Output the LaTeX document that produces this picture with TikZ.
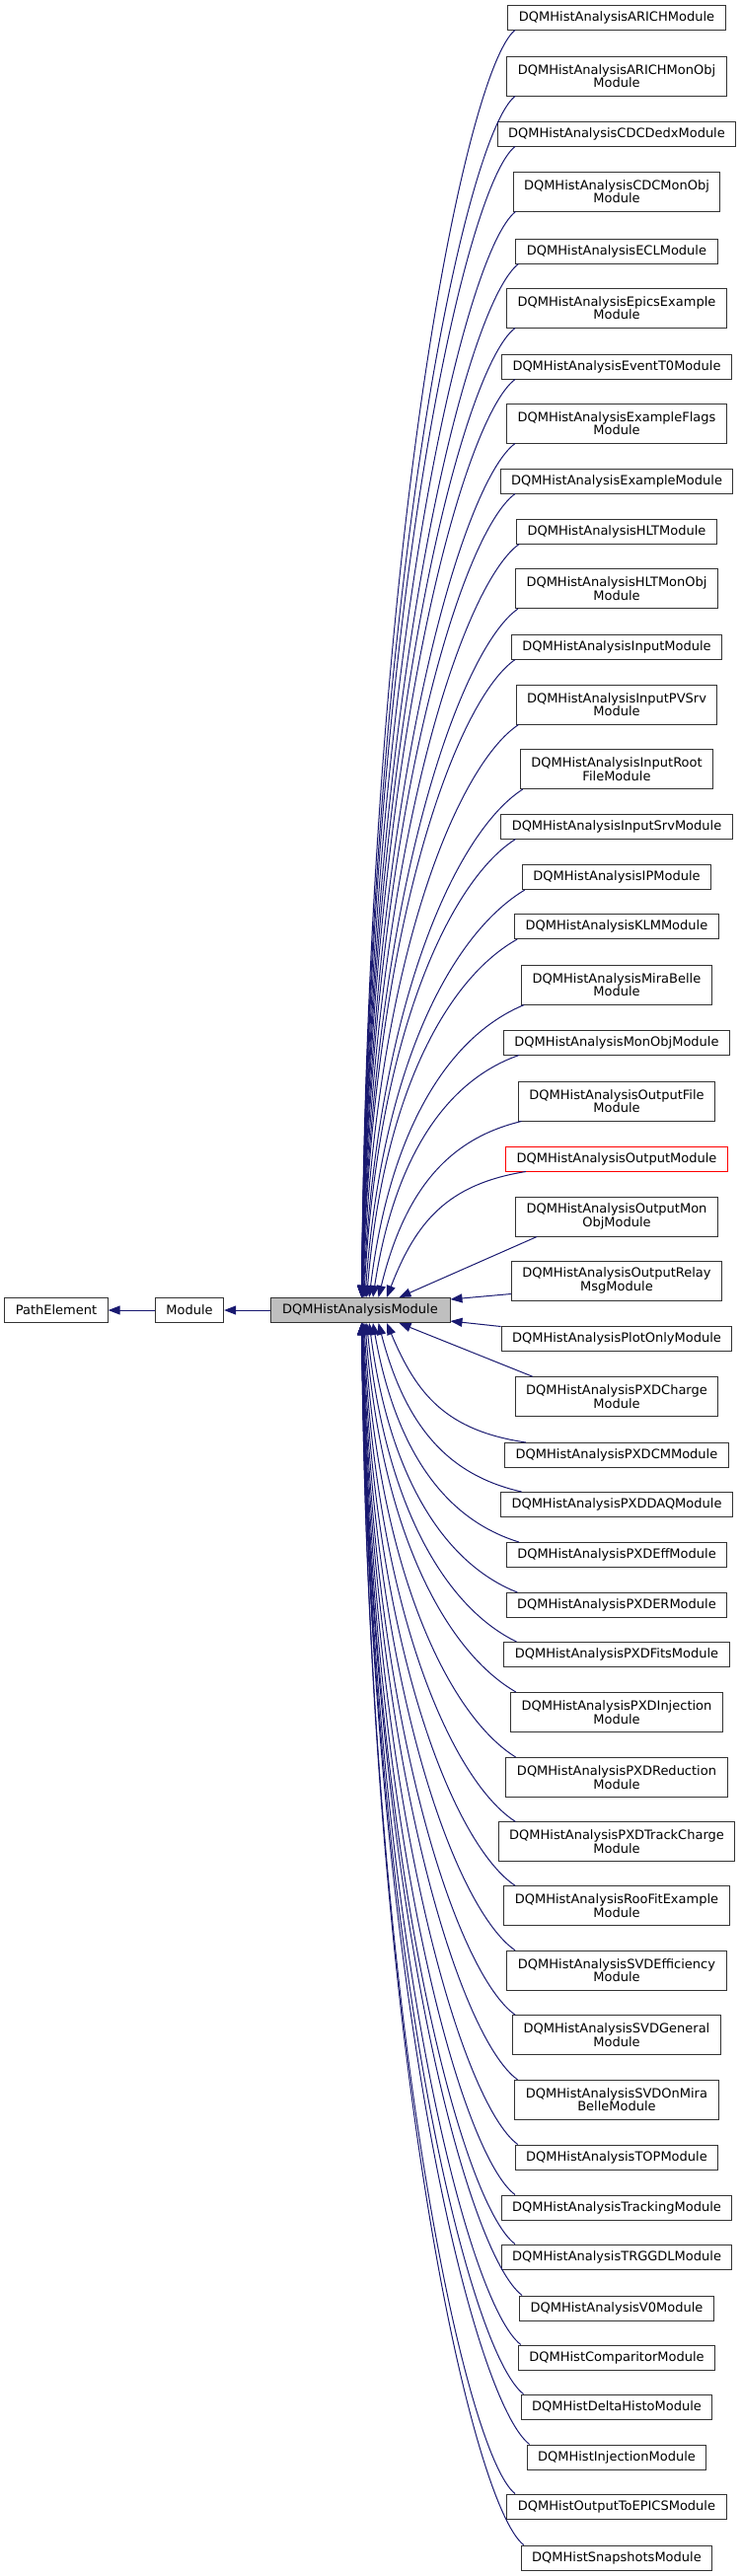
\documentclass[tikz,border=0pt]{standalone}
\usepackage{fontspec}
\setmainfont{DejaVu Sans}
\usetikzlibrary{arrows.meta,calc}
\definecolor{edgeblue}{RGB}{25,25,112}
\definecolor{boxgray}{RGB}{191,191,191}
\begin{document}
\begin{tikzpicture}[x=1pt,y=-1pt,
  box/.style={draw=black!80, line width=1pt, fill=white, inner xsep=11pt, inner ysep=0pt,
    minimum height=25pt, font=\fontsize{13}{13.5}\selectfont, text=black, align=center},
  boxtwo/.style={box, minimum height=40pt},
  inh/.style={draw=edgeblue, line width=1pt, -{Triangle[length=12pt,width=9pt]}}]
\useasboundingbox (0,0) rectangle (752,2611);

% left chain
\node[box] (pe) at (57,1328) {PathElement};
\node[box] (m) at (192,1328) {Module};
\node[box, fill=boxgray, minimum width=182pt] (p) at (365,1328) {DQMHistAnalysisModule};

% children
\node[box]    (c1)  at (625,17.5)   {DQMHistAnalysisARICHModule};
\node[boxtwo] (c2)  at (625,77)     {DQMHistAnalysisARICHMonObj\\Module};
\node[box]    (c3)  at (625,135.5)  {DQMHistAnalysisCDCDedxModule};
\node[boxtwo] (c4)  at (625,194)    {DQMHistAnalysisCDCMonObj\\Module};
\node[box]    (c5)  at (625,254.5)  {DQMHistAnalysisECLModule};
\node[boxtwo] (c6)  at (625,312)    {DQMHistAnalysisEpicsExample\\Module};
\node[box]    (c7)  at (625,371.5)  {DQMHistAnalysisEventT0Module};
\node[boxtwo] (c8)  at (625,429)    {DQMHistAnalysisExampleFlags\\Module};
\node[box]    (c9)  at (625,487.5)  {DQMHistAnalysisExampleModule};
\node[box]    (c10) at (625,538.5)  {DQMHistAnalysisHLTModule};
\node[boxtwo] (c11) at (625,596.5)  {DQMHistAnalysisHLTMonObj\\Module};
\node[box]    (c12) at (625,655.5)  {DQMHistAnalysisInputModule};
\node[boxtwo] (c13) at (625,714)    {DQMHistAnalysisInputPVSrv\\Module};
\node[boxtwo] (c14) at (625,779.5)  {DQMHistAnalysisInputRoot\\FileModule};
\node[box]    (c15) at (625,837.5)  {DQMHistAnalysisInputSrvModule};
\node[box]    (c16) at (625,889)    {DQMHistAnalysisIPModule};
\node[box]    (c17) at (625,939)    {DQMHistAnalysisKLMModule};
\node[boxtwo] (c18) at (625,998)    {DQMHistAnalysisMiraBelle\\Module};
\node[box]    (c19) at (625,1056.5) {DQMHistAnalysisMonObjModule};
\node[boxtwo] (c20) at (625,1116)   {DQMHistAnalysisOutputFile\\Module};
\node[box, draw=red] (c21) at (625,1174.5) {DQMHistAnalysisOutputModule};
\node[boxtwo] (c22) at (625,1233)   {DQMHistAnalysisOutputMon\\ObjModule};
\node[boxtwo] (c23) at (625,1298)   {DQMHistAnalysisOutputRelay\\MsgModule};
\node[box]    (c24) at (625,1356.5) {DQMHistAnalysisPlotOnlyModule};
\node[boxtwo] (c25) at (625,1415.7) {DQMHistAnalysisPXDCharge\\Module};
\node[box]    (c26) at (625,1475)   {DQMHistAnalysisPXDCMModule};
\node[box]    (c27) at (625,1525)   {DQMHistAnalysisPXDDAQModule};
\node[box]    (c28) at (625,1576)   {DQMHistAnalysisPXDEffModule};
\node[box]    (c29) at (625,1627)   {DQMHistAnalysisPXDERModule};
\node[box]    (c30) at (625,1677)   {DQMHistAnalysisPXDFitsModule};
\node[boxtwo] (c31) at (625,1735.5) {DQMHistAnalysisPXDInjection\\Module};
\node[boxtwo] (c32) at (625,1801.4) {DQMHistAnalysisPXDReduction\\Module};
\node[boxtwo] (c33) at (625,1866.8) {DQMHistAnalysisPXDTrackCharge\\Module};
\node[boxtwo] (c34) at (625,1931.8) {DQMHistAnalysisRooFitExample\\Module};
\node[boxtwo] (c35) at (625,1997.3) {DQMHistAnalysisSVDEfficiency\\Module};
\node[boxtwo] (c36) at (625,2062.7) {DQMHistAnalysisSVDGeneral\\Module};
\node[boxtwo] (c37) at (625,2128.3) {DQMHistAnalysisSVDOnMira\\BelleModule};
\node[box]    (c38) at (625,2186.5) {DQMHistAnalysisTOPModule};
\node[box]    (c39) at (625,2237.5) {DQMHistAnalysisTrackingModule};
\node[box]    (c40) at (625,2287.5) {DQMHistAnalysisTRGGDLModule};
\node[box]    (c41) at (625,2339.5) {DQMHistAnalysisV0Module};
\node[box]    (c42) at (625,2389.5) {DQMHistComparitorModule};
\node[box]    (c43) at (625,2439.5) {DQMHistDeltaHistoModule};
\node[box]    (c44) at (625,2490.5) {DQMHistInjectionModule};
\node[box]    (c45) at (625,2540.5) {DQMHistOutputToEPICSModule};
\node[box]    (c46) at (625,2592.5) {DQMHistSnapshotsModule};

% chain edges
\draw[inh] (p.west) -- (m.east);
\draw[inh] (m.west) -- (pe.east);

% upper children -> top of parent
\foreach \i in {1,...,21}{
  \pgfmathsetmacro\k{23-\i}
  \pgfmathsetmacro\off{93+38*exp(-(\k-1)/2.5)}
  \pgfmathsetmacro\startx{522+18*exp(-(\k-1)/2)}
  \draw[inh] let \p1=(c\i.south west), \p2=($(p.north west)+(\off,0)$),
      \p3=({max(\x1+3,\startx)},\y1),
      \n1={\x3-\x2}, \n2={\y3-\y2}, \n3={\n1/(\n1+\n2)} in
    (\p3) .. controls ({\x3-(0.25+0.6*\n3)*\n1},{\y3-min(0.25*\n1,0.1*\n2)})
             and ({\x2+0.4*\n3*\n1},{\y2+0.6*\n2}) .. (\p2);
}
% lower children -> bottom of parent
\foreach \i in {26,...,46}{
  \pgfmathsetmacro\k{\i-24}
  \pgfmathsetmacro\off{93+38*exp(-(\k-1)/2.5)}
  \pgfmathsetmacro\startx{522+18*exp(-(\k-1)/2)}
  \draw[inh] let \p1=(c\i.north west), \p2=($(p.south west)+(\off,0)$),
      \p3=({max(\x1+3,\startx)},\y1),
      \n1={\x3-\x2}, \n2={\y2-\y3}, \n3={\n1/(\n1+\n2)} in
    (\p3) .. controls ({\x3-(0.25+0.6*\n3)*\n1},{\y3+min(0.25*\n1,0.1*\n2)})
             and ({\x2+0.4*\n3*\n1},{\y2-0.6*\n2}) .. (\p2);
}
% nearest children: almost straight
\draw[inh] ($(c22.south west)+(22,0)$) -- ($(p.north west)+(131,0)$);
\draw[inh] ($(c25.north west)+(18,0)$) -- ($(p.south west)+(131,0)$);
% side edges
\draw[inh] ($(c23.south west)+(0,-7)$) -- ($(p.north east)+(0,2)$);
\draw[inh] ($(c24.north west)+(0,1)$) -- ($(p.south east)+(0,-2)$);
\end{tikzpicture}
\end{document}
